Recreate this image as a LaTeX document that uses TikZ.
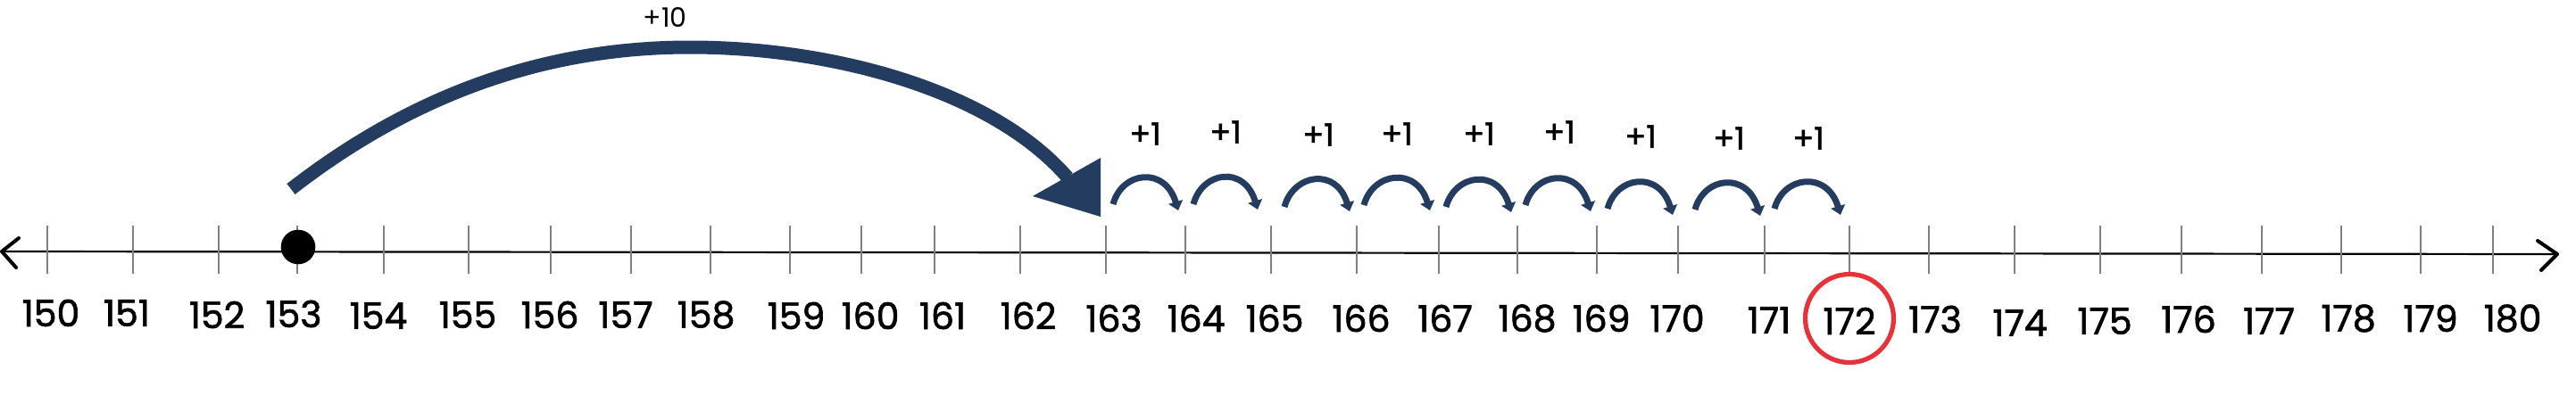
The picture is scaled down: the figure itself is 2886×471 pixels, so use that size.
\documentclass[tikz,border=0pt]{standalone}
\usepackage{fontspec}
\setmainfont{Poppins}
\newfontfamily\handbold{Poppins}[FakeBold=1.6]
\usetikzlibrary{arrows.meta}
\definecolor{navy}{HTML}{233C5F}
\definecolor{redc}{HTML}{E8323A}
\begin{document}
\begin{tikzpicture}[x=0.5pt,y=-0.5pt,
  numlab/.style={font=\handbold\fontsize{20.5}{24}\selectfont, inner sep=0pt},
  pluslab/.style={font=\handbold\fontsize{17.5}{20}\selectfont, inner sep=0pt},
  tenlab/.style={font=\fontsize{15}{18}\selectfont, inner sep=0pt},
  tickline/.style={draw=black!50, line width=0.8pt},
  axisline/.style={draw=black, line width=1.1pt},
  chevron/.style={draw=black, line width=2pt, line cap=round, line join=round},
  hop/.style={draw=navy, line width=3.5pt, -{Triangle[length=5pt,width=8pt]}},
  bigshaft/.style={draw=navy, line width=7.5pt},
]
\useasboundingbox (0,0) rectangle (2886,471);
% axis
\coordinate (aL) at (2,282);
\coordinate (aR) at (2865,285);
\draw[axisline] (aL) -- (aR);
\draw[chevron] (21,267) -- (aL) -- (18,300);
\draw[chevron] (2843,270) -- (aR) -- (2847,303);
% ticks
\foreach \n/\x in {150/53,151/149,152/245,153/333,154/430,155/525,156/617,157/707,158/796,159/885,160/965,161/1047,162/1143,163/1239,164/1328,165/1424,166/1520,167/1612,168/1700,169/1789,170/1880,171/1977,172/2072,173/2161,174/2257,175/2353,176/2444,177/2534,178/2623,179/2712,180/2793}
  \draw[tickline] (\x,253) coordinate (t\n) -- (\x,307);
% labels
\foreach \n/\x/\y in {150/57/351,151/142/351,152/243/353,153/329/352,154/424/354,155/524/353,156/616/353,157/701/353,158/791/353,159/892/354,160/975/354,161/1056/354,162/1152/354,163/1248/357,164/1340/357,165/1428/357,166/1525/357,167/1619/357,168/1711/357,169/1794/357,170/1879/357,171/1982/359,172/2072/360,173/2168/358,174/2263/362,175/2358/360,176/2452/358,177/2542/360,178/2631/357,179/2723/357,180/2815/357}
  \node[numlab] (l\n) at (\x,\y) {\n};
% start dot
\node[circle, fill=black, minimum size=19.3pt, inner sep=0pt] (dot) at (334,277) {};
% answer ring
\node[circle, draw=redc, line width=2.6pt, minimum size=49.5pt, inner sep=0pt] (ring) at (2072,357) {};
% big jump +10
\coordinate (bigS) at (326,212);
\coordinate (bigE) at (1196,199);
\draw[bigshaft] (bigS) .. controls (470,100) and (620,53) .. (773,53) .. controls (930,53) and (1110,100) .. (bigE);
\fill[navy] (1233,177) -- (1233,243) -- (1157,220) -- cycle;
\node[tenlab] (ten) at (745,19) {+10};
% small jumps +1
\foreach \i/\s/\ys/\e/\ye in {1/1247/229/1320/236,2/1337/229/1409/235,3/1439/232/1512/237,4/1528/230/1602/236,5/1620/232/1693/238,6/1709/230/1782/237,7/1801/234/1874/241,8/1899/235/1972/242,9/1988/234/2062/241}{
  \coordinate (h\i s) at (\s,\ys);
  \coordinate (h\i e) at (\e,\ye);
  \draw[hop] (h\i s) .. controls +(10,-37) and +(-15,-50) .. (h\i e);
}
\foreach \i/\x/\y in {1/1283/150,2/1373/148,3/1477/151,4/1565/150,5/1657/150,6/1747/148,7/1838/153,8/1937/155,9/2026/155}
  \node[pluslab] (p\i) at (\x,\y) {+1};
\end{tikzpicture}
\end{document}
